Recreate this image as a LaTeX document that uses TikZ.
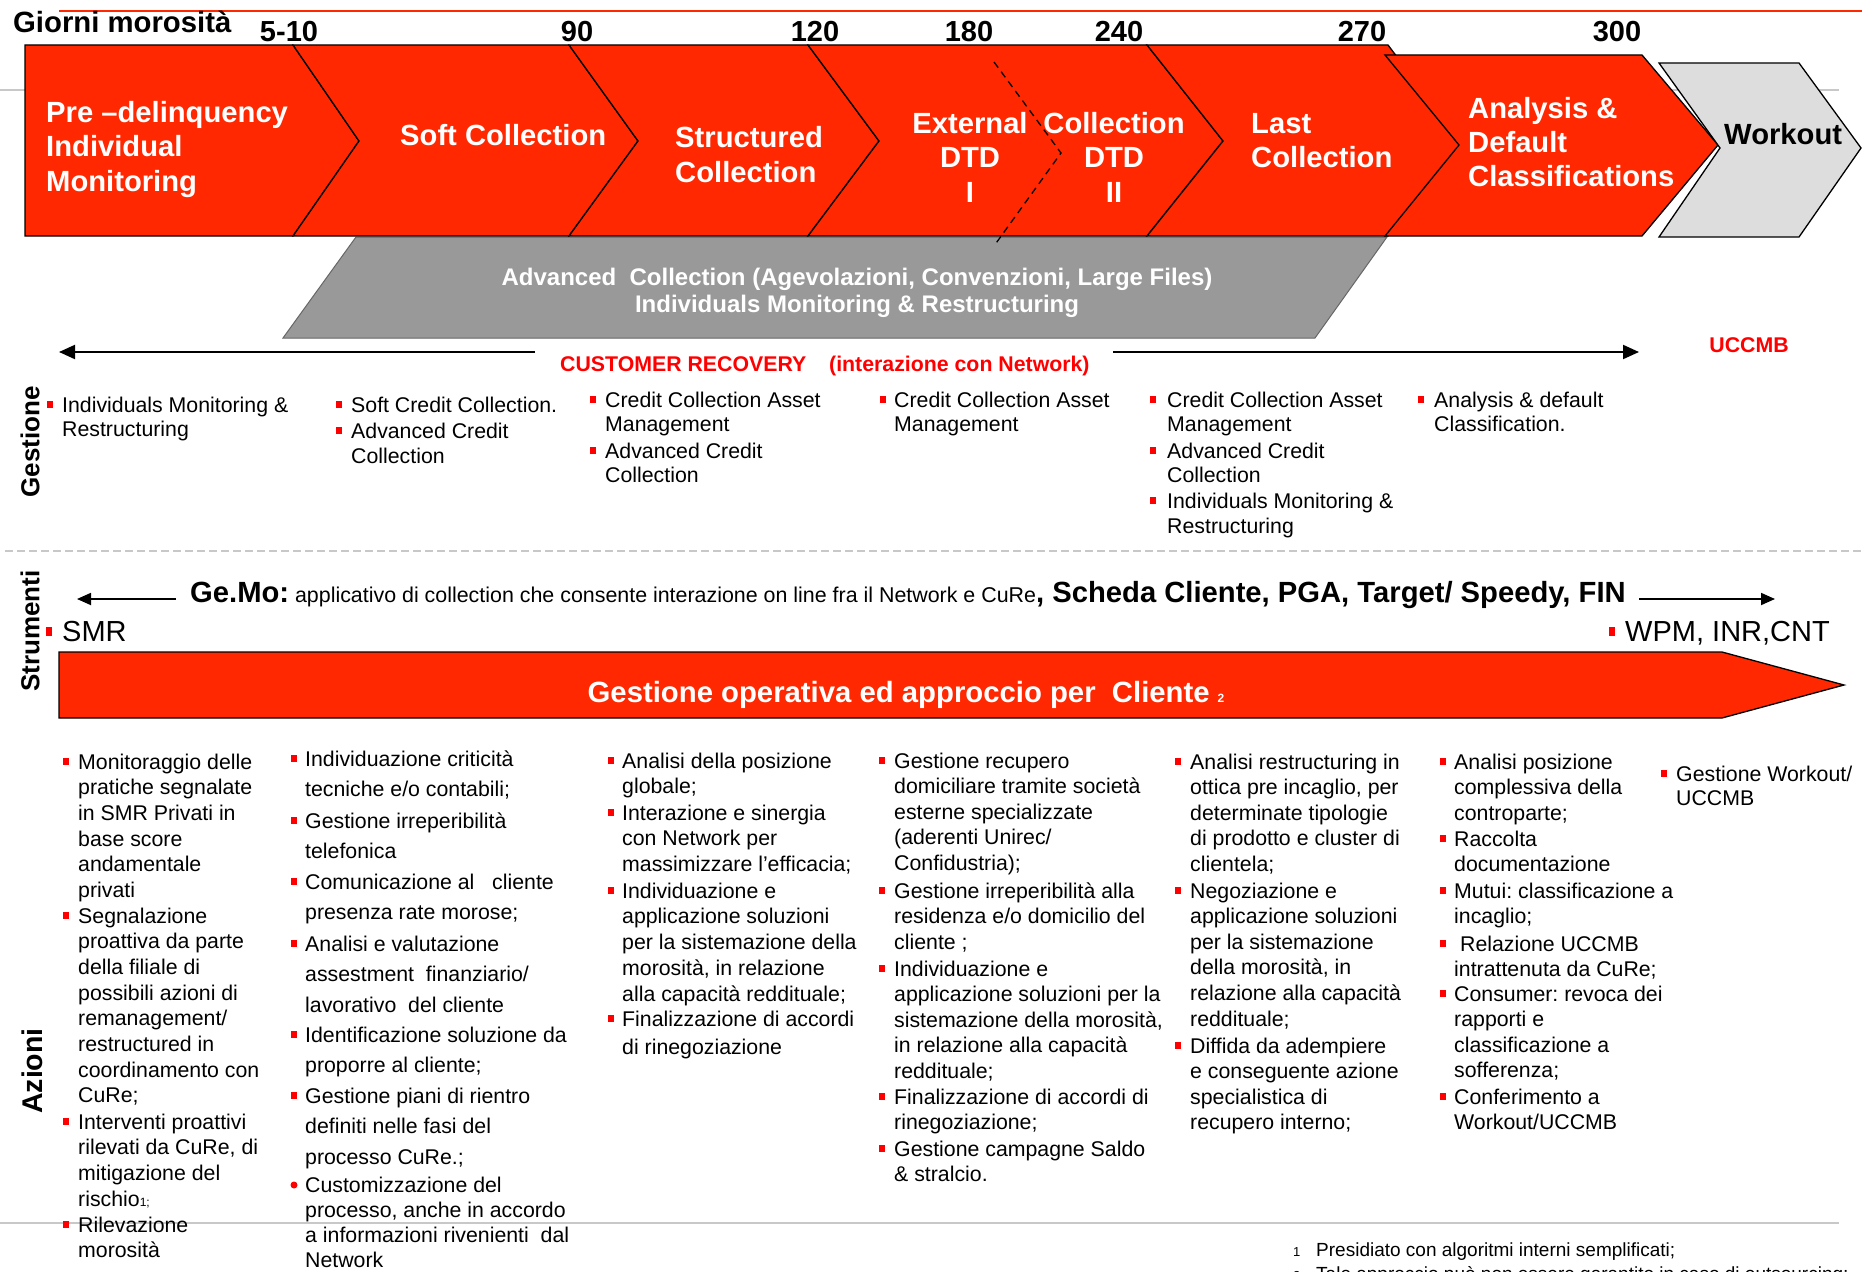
\documentclass[tikz,border=0pt]{standalone}
\usepackage{fontspec}
\setmainfont{Liberation Sans}
\usetikzlibrary{arrows.meta}
\frenchspacing
\definecolor{cred}{RGB}{255,40,0}
\definecolor{tred}{RGB}{255,0,0}
\definecolor{bgray}{RGB}{153,153,153}
\definecolor{wgray}{RGB}{221,221,221}
\definecolor{lgray}{RGB}{200,200,200}
\newcommand\Lb[3]{\parbox[t]{440pt}{\raggedright\fontsize{#1}{#2}\selectfont #3}}
\newcommand\Cb[3]{\parbox[t]{900pt}{\centering\fontsize{#1}{#2}\selectfont #3}}
\newcommand\bul[2]{\fill[tred] (#1,#2-11) rectangle (#1+6,#2-4);}
\newcommand\bs{21.3}
\begin{document}
\begin{tikzpicture}[x=1pt,y=-1pt,
  itm/.style={inner sep=0pt, anchor=base west},
  itc/.style={inner sep=0pt, anchor=base},
  chev/.style={fill=cred, draw=black, line width=1.3pt, line join=miter},
  wtxt/.style={inner sep=0pt, text=white, font=\bfseries},
  btxt/.style={inner sep=0pt, font=\bfseries},
  num/.style={inner sep=0pt, anchor=base, font=\bfseries\fontsize{29}{34}\selectfont},
  side/.style={inner sep=0pt, rotate=90, font=\bfseries},
  bigarr/.style={line width=2pt, -{Triangle[length=16pt,width=14pt]}},
  smarr/.style={line width=1.8pt, -{Triangle[length=14pt,width=12pt]}},
  rtxt/.style={inner sep=0pt, anchor=base west, text=tred, font=\bfseries\fontsize{21.3}{25}\selectfont}
]
\useasboundingbox (0,0) rectangle (1862,1271);
\fill[white] (0,0) rectangle (1862,1271);

% background lines
\draw[lgray, line width=1.5pt] (0,90) -- (1839,90);
\draw[cred, line width=2pt] (59,11) -- (1862,11);
\draw[lgray, line width=2pt] (0,1223) -- (1839,1223);

% header
\node[itm, font=\bfseries\fontsize{29.3}{34}\selectfont] (giorni) at (13,33) {Giorni morosità};
\node[num] (d1) at (289,42) {5-10};
\node[num] (d2) at (577,42) {90};
\node[num] (d3) at (815,42) {120};
\node[num] (d4) at (969,42) {180};
\node[num] (d5) at (1119,42) {240};
\node[num] (d6) at (1362,42) {270};
\node[num] (d7) at (1617,42) {300};

% grey banner
\draw[fill=bgray, draw=black!60, line width=1pt] (356,237) -- (1387,237) -- (1315,338) -- (283,338) -- cycle;
\node[wtxt, anchor=base] (adv) at (857,285) {\Cb{24}{27}{Advanced\ \ Collection (Agevolazioni, Convenzioni, Large Files)\\Individuals Monitoring \& Restructuring}};

% chevrons
\draw[chev] (25,45) -- (293,45) -- (359,141) -- (293,236) -- (25,236) -- cycle;
\draw[chev] (293,45) -- (569,45) -- (638,141) -- (569,236) -- (293,236) -- (359,141) -- cycle;
\draw[chev] (569,45) -- (808,45) -- (879,141) -- (808,236) -- (569,236) -- (638,141) -- cycle;
\draw[chev] (808,45) -- (1147,45) -- (1223,141) -- (1147,236) -- (808,236) -- (879,141) -- cycle;
\draw[chev] (1147,45) -- (1388,45) -- (1462,143) -- (1388,236) -- (1147,236) -- (1223,141) -- cycle;
\draw[chev] (1385,55) -- (1642,55) -- (1718,145) -- (1642,236) -- (1385,236) -- (1459,145) -- cycle;
\draw[fill=wgray, draw=black, line width=1.3pt] (1659,63) -- (1799,63) -- (1861,148) -- (1799,237) -- (1659,237) -- (1720,148) -- cycle;
\draw[black, line width=1.3pt, dash pattern=on 7pt off 5pt] (994,62) -- (1061,153) -- (994,246);

\node[wtxt, itm] (c1) at (46,122) {\Lb{29.2}{35}{Pre –delinquency\\Individual\\Monitoring}};
\node[wtxt, itm] (c2) at (400,146) {\Lb{29.2}{35}{Soft Collection}};
\node[wtxt, itm] (c3) at (675,147) {\Lb{29.2}{35}{Structured\\Collection}};
\node[wtxt, itc] (c4) at (970,133) {\Cb{29.2}{35}{External\\DTD\\I}};
\node[wtxt, itc] (c5) at (1114,133) {\Cb{29.2}{35}{Collection\\DTD\\II}};
\node[wtxt, itm] (c6) at (1251,133) {\Lb{29.2}{35}{Last\\Collection}};
\node[wtxt, itm] (c7) at (1468,118) {\Lb{29.2}{34}{Analysis \&\\Default\\Classifications}};
\node[btxt, itm] (c8) at (1724,144) {\Lb{29.2}{34}{Workout}};

% customer recovery
\coordinate (crA) at (535,352);
\coordinate (crB) at (59,352);
\coordinate (crC) at (1113,352);
\coordinate (crD) at (1639,352);
\draw[bigarr] (crA) -- (crB);
\draw[bigarr] (crC) -- (crD);
\node[rtxt] (cr1) at (560,371) {CUSTOMER RECOVERY};
\node[rtxt] (cr2) at (829,371) {(interazione con Network)};
\node[rtxt, anchor=base] (uccmb) at (1749,352) {UCCMB};

% separator
\draw[lgray, line width=2pt, dash pattern=on 8pt off 4pt] (5,551) -- (1862,551);

% Gestione
\node[side, font=\bfseries\fontsize{26}{30}\selectfont] (gest) at (30,442) {Gestione};
\node[itm] (g1a) at (62,412) {\Lb{\bs}{24.5}{Individuals Monitoring \&\\Restructuring}}; \bul{47}{412}
\node[itm] (g2a) at (351,412) {\Lb{\bs}{25}{Soft Credit Collection.}}; \bul{336}{412}
\node[itm] (g2b) at (351,438) {\Lb{\bs}{25}{Advanced Credit\\Collection}}; \bul{336}{438}
\node[itm] (g3a) at (605,407) {\Lb{\bs}{24}{Credit Collection Asset\\Management}}; \bul{590}{407}
\node[itm] (g3b) at (605,458) {\Lb{\bs}{24.5}{Advanced Credit\\Collection}}; \bul{590}{458}
\node[itm] (g4a) at (894,407) {\Lb{\bs}{24}{Credit Collection Asset\\Management}}; \bul{880}{407}
\node[itm] (g5a) at (1167,407) {\Lb{\bs}{24}{Credit Collection Asset\\Management}}; \bul{1150}{407}
\node[itm] (g5b) at (1167,458) {\Lb{\bs}{24.5}{Advanced Credit\\Collection}}; \bul{1150}{458}
\node[itm] (g5c) at (1167,508) {\Lb{\bs}{25}{Individuals Monitoring \&\\Restructuring}}; \bul{1150}{508}
\node[itm] (g6a) at (1434,407) {\Lb{\bs}{24}{Analysis \& default\\Classification.}}; \bul{1418}{407}

% Strumenti
\node[side, font=\bfseries\fontsize{26}{30}\selectfont] (strum) at (30,631) {Strumenti};
\coordinate (gmA) at (176,599);
\coordinate (gmB) at (77,599);
\coordinate (gmC) at (1639,599);
\coordinate (gmD) at (1775,599);
\draw[smarr] (gmA) -- (gmB);
\draw[smarr] (gmC) -- (gmD);
\node[itm] (gemo) at (190,602) {{\bfseries\fontsize{29.2}{34}\selectfont Ge.Mo:}{\fontsize{21.4}{25}\selectfont\ applicativo di collection che consente interazione on line fra il Network e CuRe}{\bfseries\fontsize{29.2}{34}\selectfont , Scheda Cliente, PGA, Target/ Speedy, FIN}};
\fill[tred] (46,627) rectangle (52,636);
\node[itm, font=\fontsize{29}{32}\selectfont] (smr) at (62,641) {SMR};
\fill[tred] (1609,627) rectangle (1615,636);
\node[itm, font=\fontsize{29}{32}\selectfont] (wpm) at (1625,641) {WPM, INR,CNT};

% big red arrow
\draw[fill=cred, draw=black, line width=1.3pt] (59,652) -- (1722,652) -- (1844,685) -- (1722,718) -- (59,718) -- cycle;
\node[wtxt, anchor=base, font=\bfseries\fontsize{29.3}{34}\selectfont] (goc) at (906,702) {Gestione operativa ed approccio per\ \ Cliente\hspace{8pt}{\fontsize{12}{14}\selectfont 2}};

% Azioni
\node[side, font=\bfseries\fontsize{28.5}{32}\selectfont] (azioni) at (32,1071) {Azioni};

\node[itm] (a1a) at (78,769) {\Lb{\bs}{25.7}{Monitoraggio delle\\pratiche segnalate\\in SMR Privati in\\base score\\andamentale\\privati}}; \bul{63}{769}
\node[itm] (a1b) at (78,923) {\Lb{\bs}{25.7}{Segnalazione\\proattiva da parte\\della filiale di\\possibili azioni di\\remanagement/\\restructured in\\coordinamento con\\CuRe;}}; \bul{63}{923}
\node[itm] (a1c) at (78,1129) {\Lb{\bs}{25.7}{Interventi proattivi\\rilevati da CuRe, di\\mitigazione del\\rischio{\fontsize{12}{14}\selectfont 1;}}}; \bul{63}{1129}
\node[itm] (a1d) at (78,1232) {\Lb{\bs}{25.7}{Rilevazione\\morosità}}; \bul{63}{1232}

\node[itm] (a2a) at (305,766) {\Lb{\bs}{30.5}{Individuazione criticità\\tecniche e/o contabili;}}; \bul{291}{766}
\node[itm] (a2b) at (305,828) {\Lb{\bs}{30.5}{Gestione irreperibilità\\telefonica}}; \bul{291}{828}
\node[itm] (a2c) at (305,889) {\Lb{\bs}{30.5}{Comunicazione al\ \ \ cliente\\presenza rate morose;}}; \bul{291}{889}
\node[itm] (a2d) at (305,951) {\Lb{\bs}{30.5}{Analisi e valutazione\\assestment\ \ finanziario/\\lavorativo\ \ del cliente}}; \bul{291}{951}
\node[itm] (a2e) at (305,1042) {\Lb{\bs}{30.5}{Identificazione soluzione da\\proporre al cliente;}}; \bul{291}{1042}
\node[itm] (a2f) at (305,1103) {\Lb{\bs}{30.5}{Gestione piani di rientro\\definiti nelle fasi del\\processo CuRe.;}}; \bul{291}{1103}
\node[itm] (a2g) at (305,1192) {\Lb{\bs}{25.3}{Customizzazione del\\processo, anche in accordo\\a informazioni rivenienti\ \ dal\\Network}};
\fill[tred] (294,1185) circle (3.5);

\node[itm] (a3a) at (622,768) {\Lb{\bs}{25.8}{Analisi della posizione\\globale;}}; \bul{608}{768}
\node[itm] (a3b) at (622,820) {\Lb{\bs}{25.8}{Interazione e sinergia\\con Network per\\massimizzare l’efficacia;}}; \bul{608}{820}
\node[itm] (a3c) at (622,898) {\Lb{\bs}{25.8}{Individuazione e\\applicazione soluzioni\\per la sistemazione della\\morosità, in relazione\\alla capacità reddituale;}}; \bul{608}{898}
\node[itm] (a3d) at (622,1026) {\Lb{\bs}{28}{Finalizzazione di accordi\\di rinegoziazione}}; \bul{608}{1026}

\node[itm] (a4a) at (894,768) {\Lb{\bs}{25.6}{Gestione recupero\\domiciliare tramite società\\esterne specializzate\\(aderenti Unirec/\\Confidustria);}}; \bul{879}{768}
\node[itm] (a4b) at (894,898) {\Lb{\bs}{25.6}{Gestione irreperibilità alla\\residenza e/o domicilio del\\cliente ;}}; \bul{879}{898}
\node[itm] (a4c) at (894,976) {\Lb{\bs}{25.6}{Individuazione e\\applicazione soluzioni per la\\sistemazione della morosità,\\in relazione alla capacità\\reddituale;}}; \bul{879}{976}
\node[itm] (a4d) at (894,1104) {\Lb{\bs}{25.6}{Finalizzazione di accordi di\\rinegoziazione;}}; \bul{879}{1104}
\node[itm] (a4e) at (894,1156) {\Lb{\bs}{25.6}{Gestione campagne Saldo\\\& stralcio.}}; \bul{879}{1156}

\node[itm] (a5a) at (1190,769) {\Lb{\bs}{25.6}{Analisi restructuring in\\ottica pre incaglio, per\\determinate tipologie\\di prodotto e cluster di\\clientela;}}; \bul{1175}{769}
\node[itm] (a5b) at (1190,898) {\Lb{\bs}{25.6}{Negoziazione e\\applicazione soluzioni\\per la sistemazione\\della morosità, in\\relazione alla capacità\\reddituale;}}; \bul{1175}{898}
\node[itm] (a5c) at (1190,1053) {\Lb{\bs}{25.6}{Diffida da adempiere\\e conseguente azione\\specialistica di\\recupero interno;}}; \bul{1175}{1053}

\node[itm] (a6a) at (1454,769) {\Lb{\bs}{25.6}{Analisi posizione\\complessiva della\\controparte;}}; \bul{1440}{769}
\node[itm] (a6b) at (1454,846) {\Lb{\bs}{25.6}{Raccolta\\documentazione}}; \bul{1440}{846}
\node[itm] (a6c) at (1454,898) {\Lb{\bs}{25.6}{Mutui: classificazione a\\incaglio;}}; \bul{1440}{898}
\node[itm] (a6d) at (1454,951) {\Lb{\bs}{25.6}{\ Relazione UCCMB\\intrattenuta da CuRe;}}; \bul{1440}{951}
\node[itm] (a6e) at (1454,1001) {\Lb{\bs}{25.6}{Consumer: revoca dei\\rapporti e\\classificazione a\\sofferenza;}}; \bul{1440}{1001}
\node[itm] (a6f) at (1454,1104) {\Lb{\bs}{25.6}{Conferimento a\\Workout/UCCMB}}; \bul{1440}{1104}

\node[itm] (a7a) at (1676,781) {\Lb{\bs}{24}{Gestione Workout/\\UCCMB}}; \bul{1661}{781}

% footnotes
\node[itm, font=\fontsize{13}{15}\selectfont] (fn1n) at (1293,1256) {1};
\node[itm, font=\fontsize{19}{22}\selectfont] (fn1) at (1316,1256) {Presidiato con algoritmi interni semplificati;};
\node[itm, font=\fontsize{13}{15}\selectfont] (fn2n) at (1293,1280) {2};
\node[itm, font=\fontsize{19}{22}\selectfont] (fn2) at (1316,1280) {Tale approccio può non essere garantito in caso di outsourcing;};
\end{tikzpicture}
\end{document}
